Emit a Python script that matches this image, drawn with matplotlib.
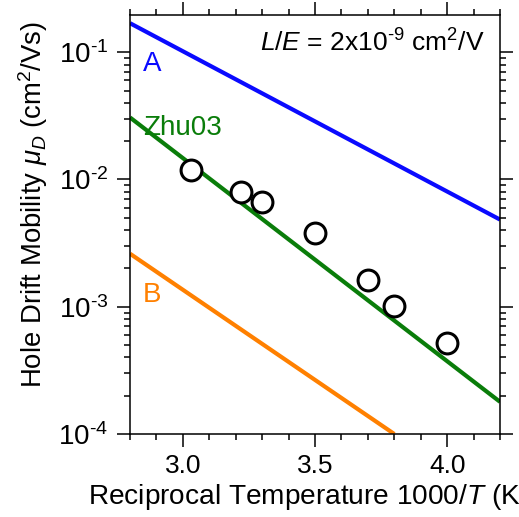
import numpy as np
import matplotlib
matplotlib.use("Agg")
import matplotlib.pyplot as plt
from matplotlib.ticker import FuncFormatter

plt.rcParams["font.family"] = "Liberation Sans"
plt.rcParams["mathtext.fontset"] = "custom"
plt.rcParams["mathtext.rm"] = "Liberation Sans"
plt.rcParams["mathtext.it"] = "Liberation Sans:italic"

# model lines: end points (1000/T, mobility)
line_x = [2.8, 4.2]
line_A = [0.169, 0.00484]
line_zhu = [0.0307, 1.79e-4]
line_B_x = [2.8, 3.8]
line_B = [0.00261, 1.0e-4]

# measured drift mobilities
data_x = [3.03, 3.22, 3.30, 3.50, 3.70, 3.80, 4.00]
data_y = [0.0118, 0.0079, 0.0066, 0.00383, 0.00163, 0.00102, 0.00052]

fig = plt.figure(figsize=(5.19, 5.17), dpi=100)
ax = fig.add_axes([130 / 519, 1 - 434 / 517, 370 / 519, 419 / 517])

ax.plot(line_x, line_A, color="#0a0aff", lw=3, solid_capstyle="butt")
ax.plot(line_x, line_zhu, color="#0a7d0a", lw=3, solid_capstyle="butt")
ax.plot(line_B_x, line_B, color="#ff8000", lw=3, solid_capstyle="butt")
ax.plot(data_x, data_y, "o", ms=15, mfc="white", mec="black", mew=2.2)

ax.set_yscale("log")
ax.set_xlim(2.8, 4.2)
ax.set_ylim(1e-4, 0.196)
ax.set_xticks([3.0, 3.5, 4.0])
ax.set_xticks(np.arange(2.8, 4.21, 0.1), minor=True)
ax.yaxis.set_major_formatter(
    FuncFormatter(lambda v, p: r"10$^{\text{-%d}}$" % round(-np.log10(v))))

ax.tick_params(which="both", direction="out", top=True, right=True, width=1.1)
ax.tick_params(which="major", length=9.5)
ax.tick_params(which="minor", length=4.5)
ax.tick_params(axis="x", pad=5, labelsize=19)
ax.tick_params(axis="y", pad=6, labelsize=20)
for s in ax.spines.values():
    s.set_linewidth(1.1)

ax.text(0.035, 0.866, "A", color="#0a0aff", fontsize=20,
        transform=ax.transAxes)
ax.text(0.035, 0.714, "Zhu03", color="#0a7d0a", fontsize=20,
        transform=ax.transAxes)
ax.text(0.035, 0.315, "B", color="#ff8000", fontsize=20,
        transform=ax.transAxes)
ax.text(0.959, 0.912, r"$L/E$ = 2x10$^{\text{-9}}$ cm$^2$/V", fontsize=19,
        ha="right", transform=ax.transAxes)

# x label runs off the right edge, as in the original
fig.text(88 / 519, 1 - 505 / 517,
         r"Reciprocal Temperature 1000/$T$ (K$^{\text{-1}}$)", fontsize=20.2,
         ha="left", va="baseline")
fig.text(42 / 519, 1 - 204 / 517,
         r"Hole Drift Mobility $\mu_D$ (cm$^2$/Vs)", fontsize=19.8,
         ha="center", va="baseline", rotation=90, rotation_mode="anchor")

fig.savefig("out.png", dpi=100)
